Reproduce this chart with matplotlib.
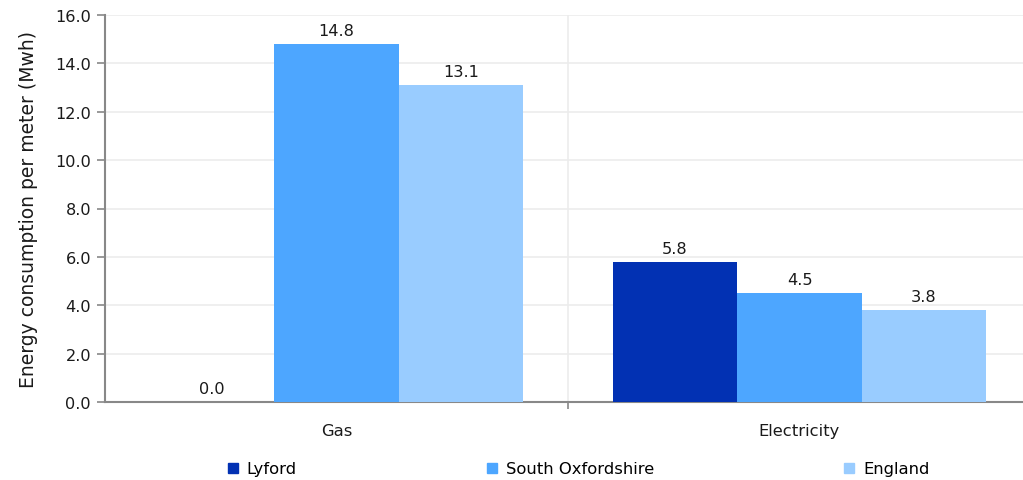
import numpy as np
import matplotlib.pyplot as plt
from matplotlib.patches import Patch

categories = ["Gas", "Electricity"]
series = ["Lyford", "South Oxfordshire", "England"]
lyford = [0.0, 5.8]
south_oxon = [14.8, 4.5]
england = [13.1, 3.8]
colors = ["#0231b3", "#4da6ff", "#99ccff"]

plt.rcParams['font.family'] = ['DejaVu Sans']
txt = '#1a1a1a'

fig = plt.figure(figsize=(10.23, 4.81), dpi=100)
ax = fig.add_axes([105 / 1023, 1 - 403 / 481, 926 / 1023, 387 / 481])

x = np.arange(len(categories))
w = 0.269
for i, (vals, c) in enumerate(zip([lyford, south_oxon, england], colors)):
  xs = x + (i - 1) * w
  ax.bar(xs, vals, w, color=c, label=series[i], zorder=3)
  for xi, v in zip(xs, vals):
    ax.text(xi, v + 0.25, "%.1f" % v, ha='center', va='bottom', fontsize=11.6, color=txt)

ax.set_xlim(-0.5, 1.5)
ax.set_ylim(0, 16)
ticks = np.arange(0, 16.1, 2)
ax.set_yticks(ticks)
ax.set_yticklabels(["%.1f" % t for t in ticks])
ax.set_xticks(x)
ax.set_xticklabels(categories)
ax.set_xticks([0.5], minor=True)
ax.tick_params(axis='x', which='major', length=0, pad=15, labelsize=11.8, colors=txt)
ax.tick_params(axis='x', which='minor', length=5, color='#888888', width=1.2)
ax.tick_params(axis='y', length=6, color='#888888', width=1.2, pad=4, labelsize=11.6, colors=txt)
ax.grid(axis='y', color='#ececec', linewidth=1.2, zorder=0)
ax.axvline(0.5, color='#ececec', linewidth=1.2, zorder=0)
for s in ['top', 'right']:
  ax.spines[s].set_visible(False)
for s in ['left', 'bottom']:
  ax.spines[s].set_color('#888888')
  ax.spines[s].set_linewidth(1.5)

fig.text(29 / 1023, 1 - 210 / 481, "Energy consumption per meter (Mwh)", rotation=90,
         ha='center', va='center', fontsize=13.5, color=txt)

handles = [Patch(color=c, label=s) for c, s in zip(colors, series)]
fig.legend(handles=handles, loc='center left', bbox_to_anchor=(228 / 1023, 1 - 470 / 481), ncol=3,
           frameon=False, fontsize=11.8, handlelength=0.6, handleheight=0.6, handletextpad=0.55,
           columnspacing=11.6, borderaxespad=0, borderpad=0)

fig.savefig("out.png", dpi=100)
